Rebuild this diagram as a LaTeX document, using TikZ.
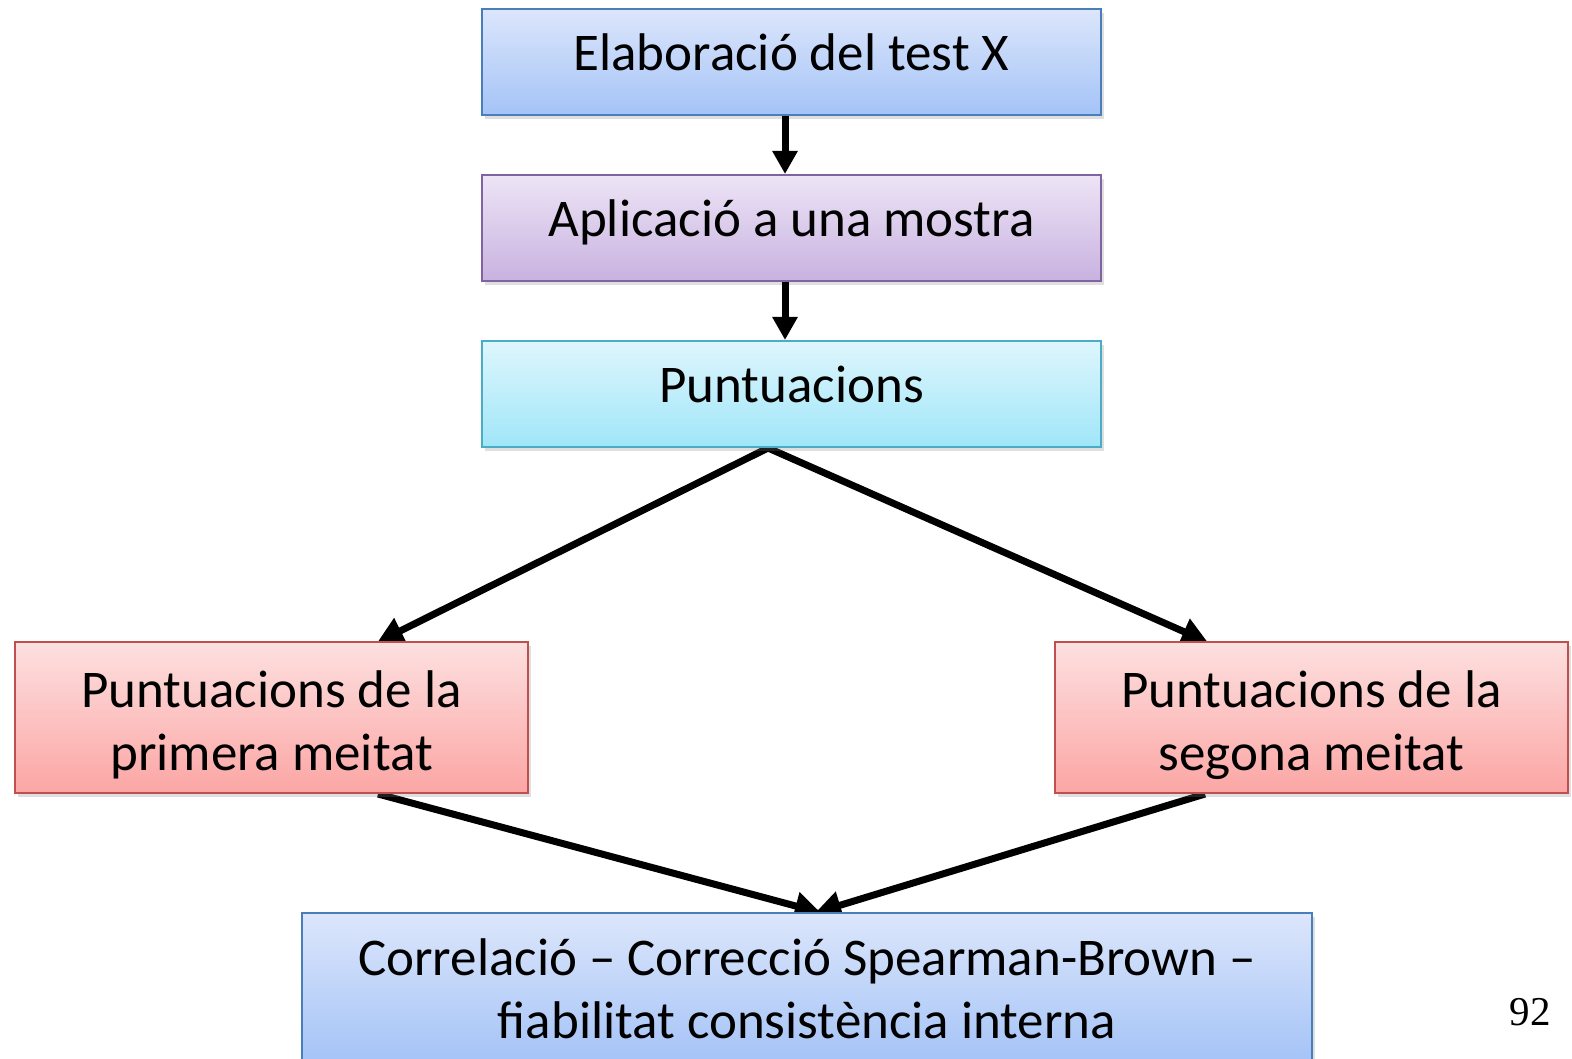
\documentclass[tikz,border=0pt]{standalone}
\usepackage{fontspec}
\setmainfont{Carlito}
\newfontfamily\pagenumfont{Liberation Serif}
\usetikzlibrary{positioning,arrows.meta,shadows,backgrounds}

\definecolor{blueTop}{RGB}{220,230,251}
\definecolor{blueBot}{RGB}{164,195,247}
\definecolor{blueLine}{RGB}{74,126,187}
\definecolor{lilaTop}{RGB}{237,228,246}
\definecolor{lilaBot}{RGB}{200,178,224}
\definecolor{lilaLine}{RGB}{128,100,162}
\definecolor{cyanTop}{RGB}{222,246,253}
\definecolor{cyanBot}{RGB}{160,230,248}
\definecolor{cyanLine}{RGB}{75,172,198}
\definecolor{redTop}{RGB}{253,224,224}
\definecolor{redBot}{RGB}{251,166,164}
\definecolor{redLine}{RGB}{192,80,77}

\newcommand{\topstrut}{\rule{0pt}{52bp}}

\begin{document}
\begin{tikzpicture}[x=1bp, y=1bp,
        node distance=58bp,
        % every node/.style={font=\sffamily},
        stepbox/.style={draw, line width=2bp, inner sep=0pt,
            minimum width=619bp, minimum height=106bp, align=center,
            font=\fontsize{53bp}{63bp}\selectfont,
            drop shadow={shadow xshift=3bp, shadow yshift=-4bp, opacity=.25}},
        oneline/.style={text height=40bp, text depth=22bp},
        halfbox/.style={stepbox, minimum width=513bp, minimum height=151bp},
        bluebox/.style={top color=blueTop, bottom color=blueBot, draw=blueLine},
        lilabox/.style={top color=lilaTop, bottom color=lilaBot, draw=lilaLine},
        cyanbox/.style={top color=cyanTop, bottom color=cyanBot, draw=cyanLine},
        redbox/.style={top color=redTop, bottom color=redBot, draw=redLine},
        flow/.style={line width=7bp, -{Triangle[length=23bp, width=24bp]}},
        % slanted arrows run a little under the boxes
        slant/.style={flow, -{Triangle[length=26bp, width=27bp]}, shorten >=-3bp}
    ]
    \useasboundingbox (0,0) rectangle (1572,1058);

    \node[stepbox, oneline, bluebox] (elab) at (791.5,996) {Elaboració del test X};
    \node[stepbox, oneline, lilabox, below=of elab] (aplic) {Aplicació a una mostra};
    \node[stepbox, oneline, cyanbox, below=of aplic] (punt) {Puntuacions};

    \node[halfbox, redbox] (primera) at (271.5,340.5) {\topstrut Puntuacions de la\\primera meitat};
    \node[halfbox, redbox] (segona) at (1311.5,340.5) {\topstrut Puntuacions de la\\segona meitat};

    \node[stepbox, bluebox, minimum width=1010bp, minimum height=151bp] (corr) at (807,69.5)
        {Correlació – Correcció Spearman-Brown –\\fiabilitat consistència interna};

    \node[font=\pagenumfont\fontsize{41bp}{46bp}\selectfont] (pag) at (1530,1058-1012) {92};

    % connectors
    \draw[flow] ([xshift=-6.5bp]elab.south) -- ([xshift=-6.5bp]aplic.north);
    \draw[flow] ([xshift=-6.5bp]aplic.south) -- ([xshift=-6.5bp]punt.north);
    \begin{pgfonlayer}{background}
        \draw[slant] ([xshift=-23.5bp]punt.south) -- ([xshift=108.5bp]primera.north);
        \draw[slant] ([xshift=-23.5bp]punt.south) -- ([xshift=-106.5bp]segona.north);
        \draw[slant] ([xshift=106.5bp]primera.south) -- ([xshift=11bp]corr.north);
        \draw[slant] ([xshift=-106.5bp]segona.south) -- ([xshift=11bp]corr.north);
    \end{pgfonlayer}
\end{tikzpicture}
\end{document}
